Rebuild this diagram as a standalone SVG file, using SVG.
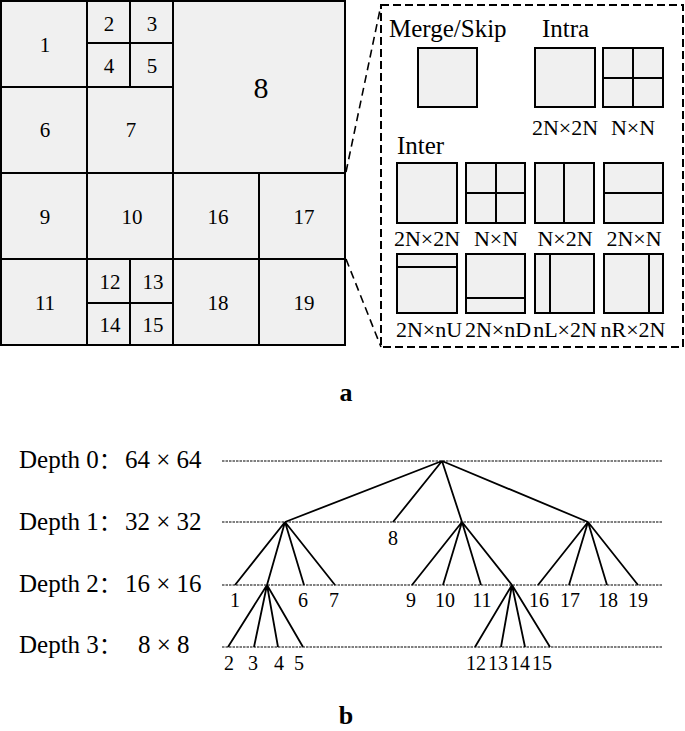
<svg xmlns="http://www.w3.org/2000/svg" width="685" height="731" viewBox="0 0 685 731">
<style>
.cell{fill:#f0f0f0;stroke:#000;stroke-width:2}
.box{fill:#f0f0f0;stroke:#000;stroke-width:2}
.div{stroke:#000;stroke-width:2;fill:none}
.t{font-family:"Liberation Serif","Times New Roman",serif;fill:#000}
.g{font-size:21px;text-anchor:middle}
.p{font-size:22px;text-anchor:middle}
.h{font-size:25px}
.d{font-size:25px}
.lbl{font-size:20px;text-anchor:middle}
.lvl{stroke:#000;stroke-width:1.2;stroke-dasharray:2.5,1;fill:none}
.edge{stroke:#000;stroke-width:1.8;fill:none}
.dash{stroke:#000;stroke-width:1.6;stroke-dasharray:8,5;fill:none}
.bold{font-size:26px;font-weight:bold;text-anchor:middle}
</style>
<rect width="685" height="731" fill="#fff"/>

<!-- Part a: quadtree grid -->
<g id="grid">
<g id="cu1"><rect class="cell" x="1" y="1" width="86" height="86"/><text class="t g" x="45" y="52">1</text></g>
<g id="cu2"><rect class="cell" x="87" y="1" width="43" height="42"/><text class="t g" x="109" y="31">2</text></g>
<g id="cu3"><rect class="cell" x="130" y="1" width="43" height="42"/><text class="t g" x="152" y="31">3</text></g>
<g id="cu4"><rect class="cell" x="87" y="43" width="43" height="44"/><text class="t g" x="109" y="73">4</text></g>
<g id="cu5"><rect class="cell" x="130" y="43" width="43" height="44"/><text class="t g" x="152" y="73">5</text></g>
<g id="cu8"><rect class="cell" x="173" y="1" width="172" height="172"/><text class="t" x="261" y="98" font-size="30" text-anchor="middle">8</text></g>
<g id="cu6"><rect class="cell" x="1" y="87" width="86" height="86"/><text class="t g" x="45" y="137">6</text></g>
<g id="cu7"><rect class="cell" x="87" y="87" width="86" height="86"/><text class="t g" x="131" y="137">7</text></g>
<g id="cu9"><rect class="cell" x="1" y="173" width="86" height="86"/><text class="t g" x="45" y="224">9</text></g>
<g id="cu10"><rect class="cell" x="87" y="173" width="86" height="86"/><text class="t g" x="132" y="224">10</text></g>
<g id="cu16"><rect class="cell" x="173" y="173" width="86" height="86"/><text class="t g" x="218" y="224">16</text></g>
<g id="cu17"><rect class="cell" x="259" y="173" width="86" height="86"/><text class="t g" x="304" y="224">17</text></g>
<g id="cu11"><rect class="cell" x="1" y="259" width="86" height="86"/><text class="t g" x="45" y="310">11</text></g>
<g id="cu12"><rect class="cell" x="87" y="259" width="43" height="44"/><text class="t g" x="110" y="289">12</text></g>
<g id="cu13"><rect class="cell" x="130" y="259" width="43" height="44"/><text class="t g" x="153" y="289">13</text></g>
<g id="cu14"><rect class="cell" x="87" y="303" width="43" height="42"/><text class="t g" x="110" y="332">14</text></g>
<g id="cu15"><rect class="cell" x="130" y="303" width="43" height="42"/><text class="t g" x="153" y="332">15</text></g>
<g id="cu18"><rect class="cell" x="173" y="259" width="86" height="86"/><text class="t g" x="218" y="310">18</text></g>
<g id="cu19"><rect class="cell" x="259" y="259" width="86" height="86"/><text class="t g" x="304" y="310">19</text></g>
</g>

<!-- Part a: partition modes panel -->
<g id="modes">
<rect x="381" y="5" width="302" height="342" fill="none" stroke="#000" stroke-width="2" stroke-dasharray="8,4"/>
<text class="t h" x="389" y="37">Merge/Skip</text>
<text class="t h" x="542" y="37">Intra</text>
<text class="t h" x="397" y="154">Inter</text>
<g id="merge"><rect class="box" x="418" y="48" width="59" height="59"/></g>
<g id="intra2Nx2N"><rect class="box" x="535" y="48" width="60" height="59"/><text class="t p" x="565" y="135">2N×2N</text></g>
<g id="intraNxN"><rect class="box" x="603" y="48" width="60" height="59"/><path class="div" d="M633 48V107M603 78H663"/><text class="t p" x="633" y="135">N×N</text></g>
<g id="inter2Nx2N"><rect class="box" x="397" y="163" width="60" height="60"/><text class="t p" x="427" y="246">2N×2N</text></g>
<g id="interNxN"><rect class="box" x="466" y="163" width="59" height="60"/><path class="div" d="M496 163V223M466 193H525"/><text class="t p" x="496" y="246">N×N</text></g>
<g id="interNx2N"><rect class="box" x="535" y="163" width="59" height="60"/><path class="div" d="M564 163V223"/><text class="t p" x="565" y="246">N×2N</text></g>
<g id="inter2NxN"><rect class="box" x="604" y="163" width="59" height="60"/><path class="div" d="M604 193H663"/><text class="t p" x="634" y="246">2N×N</text></g>
<g id="inter2NxnU"><rect class="box" x="397" y="254" width="60" height="59"/><path class="div" d="M397 267H457"/><text class="t p" x="429" y="337">2N×nU</text></g>
<g id="inter2NxnD"><rect class="box" x="466" y="254" width="59" height="59"/><path class="div" d="M466 298H525"/><text class="t p" x="498" y="337">2N×nD</text></g>
<g id="internLx2N"><rect class="box" x="535" y="254" width="59" height="59"/><path class="div" d="M550 254V313"/><text class="t p" x="565" y="337">nL×2N</text></g>
<g id="internRx2N"><rect class="box" x="604" y="254" width="59" height="59"/><path class="div" d="M649 254V313"/><text class="t p" x="633" y="337">nR×2N</text></g>
</g>

<g id="zoom-connectors">
<path class="dash" d="M346 172L381 5"/>
<path class="dash" d="M346 259L381 347"/>
</g>

<text class="t bold" x="346" y="401">a</text>

<!-- Part b: depth levels -->
<g id="levels">
<text class="t d" y="468"><tspan x="19">Depth 0</tspan><tspan x="99" font-family="'Noto Sans CJK SC',sans-serif" font-size="22">：</tspan><tspan x="125">64 × 64</tspan></text>
<text class="t d" y="530"><tspan x="19">Depth 1</tspan><tspan x="99" font-family="'Noto Sans CJK SC',sans-serif" font-size="22">：</tspan><tspan x="125">32 × 32</tspan></text>
<text class="t d" y="592"><tspan x="19">Depth 2</tspan><tspan x="99" font-family="'Noto Sans CJK SC',sans-serif" font-size="22">：</tspan><tspan x="125">16 × 16</tspan></text>
<text class="t d" y="653"><tspan x="19">Depth 3</tspan><tspan x="99" font-family="'Noto Sans CJK SC',sans-serif" font-size="22">：</tspan><tspan x="138">8 × 8</tspan></text>
<path class="lvl" d="M222 461H663M222 522H663M222 585H663M222 647H663"/>
</g>

<g id="tree-edges">
<path class="edge" d="M442 461L285 522M442 461L393 522M442 461L462 522M442 461L588 522"/>
<path class="edge" d="M285 522L235 585M285 522L267 585M285 522L304 585M285 522L335 585"/>
<path class="edge" d="M267 585L228 647M267 585L254 647M267 585L278 647M267 585L303 647"/>
<path class="edge" d="M462 522L412 585M462 522L443 585M462 522L481 585M462 522L512 585"/>
<path class="edge" d="M512 585L475 647M512 585L501 647M512 585L525 647M512 585L550 647"/>
<path class="edge" d="M588 522L538 585M588 522L569 585M588 522L607 585M588 522L638 585"/>
</g>

<g id="tree-labels">
<text class="t lbl" x="393" y="545">8</text>
<text class="t lbl" x="235" y="607">1</text>
<text class="t lbl" x="303" y="607">6</text>
<text class="t lbl" x="334" y="607">7</text>
<text class="t lbl" x="411" y="607">9</text>
<text class="t lbl" x="445" y="607">10</text>
<text class="t lbl" x="482" y="607">11</text>
<text class="t lbl" x="539" y="607">16</text>
<text class="t lbl" x="570" y="607">17</text>
<text class="t lbl" x="608" y="607">18</text>
<text class="t lbl" x="638" y="607">19</text>
<text class="t lbl" x="229" y="670">2</text>
<text class="t lbl" x="253" y="670">3</text>
<text class="t lbl" x="279" y="670">4</text>
<text class="t lbl" x="299" y="670">5</text>
<text class="t lbl" x="476" y="670">12</text>
<text class="t lbl" x="498" y="670">13</text>
<text class="t lbl" x="520" y="670">14</text>
<text class="t lbl" x="542" y="670">15</text>
</g>

<text class="t bold" x="346" y="724">b</text>
</svg>
